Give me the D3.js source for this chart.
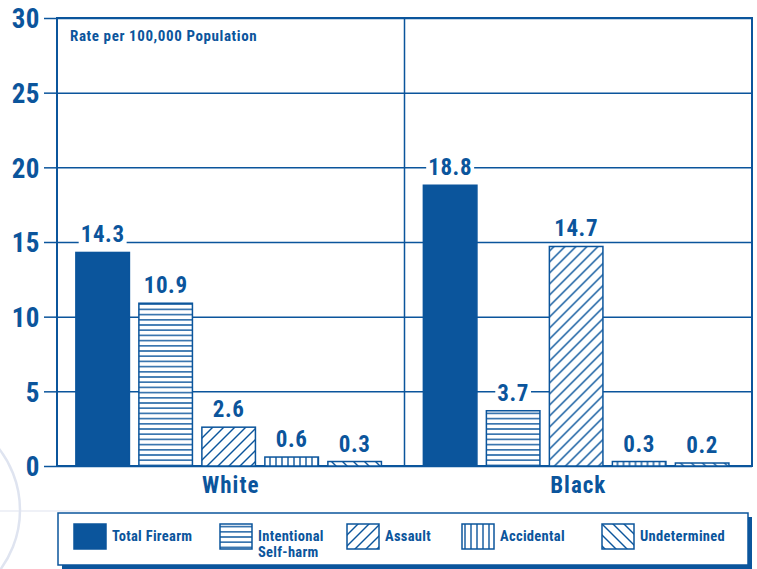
<!DOCTYPE html>
<html>
<head>
<meta charset="utf-8">
<script src="https://cdn.jsdelivr.net/npm/d3@7"></script>
<style>
  html, body { margin: 0; padding: 0; background: #fff; }
  svg text { font-family: "Liberation Sans Narrow", "Roboto Condensed", "Arial Narrow", "Liberation Sans", sans-serif; font-weight: bold; fill: #0b559c; }
</style>
</head>
<body>
<svg id="chart"></svg>
<script>
// data
const groups   = ["White", "Black"];
const series   = ["Total Firearm", "Intentional Self-harm", "Assault", "Accidental", "Undetermined"];
const white    = [14.3, 10.9, 2.6, 0.6, 0.3];
const black    = [18.8, 3.7, 14.7, 0.3, 0.2];
const yTicks   = [0, 5, 10, 15, 20, 25, 30];
const legendLabels = [["Total Firearm"], ["Intentional", "Self-harm"], ["Assault"], ["Accidental"], ["Undetermined"]];

const BLUE = "#0b559c";
const W = 757, H = 569;
const plot = { left: 57, right: 752, top: 18, bottom: 466 };

const svg = d3.select("#chart").attr("width", W).attr("height", H);
const defs = svg.append("defs");

// hatch patterns
function hatch(id, size, lines) {
  const p = defs.append("pattern").attr("id", id).attr("patternUnits", "userSpaceOnUse")
    .attr("width", size[0]).attr("height", size[1]);
  p.append("rect").attr("width", size[0]).attr("height", size[1]).attr("fill", "#fff");
  lines.forEach(l => p.append("line").attr("x1", l[0]).attr("y1", l[1]).attr("x2", l[2]).attr("y2", l[3])
    .attr("stroke", BLUE).attr("stroke-width", 1.4));
}
hatch("p-horiz", [10, 5.2], [[0, 2.6, 10, 2.6]]);
hatch("p-vert", [6, 10], [[3, 0, 3, 10]]);
hatch("p-fwd", [11, 11], [[-1, 12, 12, -1], [-12, 12, 1, -1], [10, 12, 23, -1]]);
hatch("p-back", [11, 11], [[-1, -1, 12, 12], [-12, -1, 1, 12], [10, -1, 23, 12]]);
const fills = [BLUE, "url(#p-horiz)", "url(#p-fwd)", "url(#p-vert)", "url(#p-back)"];

// decorative circle at bottom left
svg.append("circle").attr("cx", -80).attr("cy", 510).attr("r", 100)
  .attr("fill", "none").attr("stroke", "#dfe4f0").attr("stroke-width", 2.5);
svg.append("line").attr("x1", 0).attr("x2", 80).attr("y1", 511).attr("y2", 511)
  .attr("stroke", "#dfe4f0").attr("stroke-width", 1.2);

const y = d3.scaleLinear().domain([0, 30]).range([plot.bottom, plot.top]);
const x0 = d3.scaleBand().domain(groups).range([plot.left, plot.right]);
const x1 = d3.scaleBand().domain(series).range([0, x0.bandwidth()])
  .paddingInner(0.15).paddingOuter(0.333).align(0.45);

// frame + gridlines
svg.append("g").call(d3.axisLeft(y).tickValues(yTicks).tickSize(-(plot.right - plot.left)).tickFormat(""))
  .attr("transform", `translate(${plot.left},0)`)
  .call(g => g.select(".domain").remove())
  .call(g => g.selectAll("line").attr("stroke", BLUE).attr("stroke-width", 1.5));
svg.append("g").attr("transform", `translate(${plot.left},0)`)
  .call(d3.axisLeft(y).tickValues(yTicks).tickSize(13).tickPadding(4))
  .call(g => g.select(".domain").remove())
  .call(g => g.selectAll("line").attr("stroke", BLUE).attr("stroke-width", 1.5))
  .call(g => g.selectAll("text").attr("font-size", 27).attr("dy", "0.36em").attr("letter-spacing", 0.5));
svg.append("rect").attr("x", plot.left).attr("y", plot.top).attr("width", plot.right - plot.left)
  .attr("height", plot.bottom - plot.top).attr("fill", "none").attr("stroke", BLUE).attr("stroke-width", 2);
svg.append("line").attr("x1", x0("Black")).attr("x2", x0("Black")).attr("y1", plot.top).attr("y2", plot.bottom)
  .attr("stroke", BLUE).attr("stroke-width", 1.5);

svg.append("text").attr("x", 70).attr("y", 41).attr("font-size", 15).attr("letter-spacing", 0.6)
  .text("Rate per 100,000 Population");

// bars
const rows = groups.map((g, gi) => ({ group: g, values: (gi === 0 ? white : black).map((v, i) => ({ key: series[i], value: v, i })) }));
const gGroups = svg.selectAll("g.group").data(rows).join("g").attr("class", "group")
  .attr("transform", d => `translate(${x0(d.group)},0)`);

gGroups.selectAll("rect.bar").data(d => d.values).join("rect").attr("class", "bar")
  .attr("x", d => x1(d.key)).attr("width", x1.bandwidth())
  .attr("y", d => y(d.value)).attr("height", d => y(0) - y(d.value))
  .attr("fill", d => fills[d.i]).attr("stroke", BLUE).attr("stroke-width", 1.5);

// value labels, with a white box behind so grid lines don't cross them
const vals = gGroups.selectAll("g.val").data(d => d.values).join("g").attr("class", "val");
const bg = vals.append("rect").attr("fill", "#fff");
vals.append("text")
  .attr("x", d => x1(d.key) + x1.bandwidth() / 2).attr("y", d => y(d.value) - 10)
  .attr("text-anchor", "middle").attr("font-size", 23).attr("letter-spacing", 0.6)
  .text(d => d.value.toFixed(1))
  .each(function () {
    const b = this.getBBox();
    d3.select(this.previousSibling).attr("x", b.x - 2).attr("y", b.y + 3)
      .attr("width", b.width + 4).attr("height", b.height - 5);
  });

gGroups.append("text").attr("x", x0.bandwidth() / 2).attr("y", 493).attr("text-anchor", "middle")
  .attr("font-size", 23).attr("letter-spacing", 1).text(d => d.group);

// legend
svg.append("rect").attr("x", 62).attr("y", 517).attr("width", 690).attr("height", 52).attr("fill", BLUE);
svg.append("rect").attr("x", 58).attr("y", 513).attr("width", 690).attr("height", 52)
  .attr("fill", "#fff").attr("stroke", BLUE).attr("stroke-width", 1.5);

const legendX = [74, 220, 347, 462, 602];
const leg = svg.selectAll("g.leg").data(series).join("g").attr("class", "leg")
  .attr("transform", (d, i) => `translate(${legendX[i]},524)`);
leg.append("rect").attr("width", 32).attr("height", 25)
  .attr("fill", (d, i) => fills[i]).attr("stroke", BLUE).attr("stroke-width", 1.5);
leg.append("text").attr("x", 38).attr("y", 17).attr("font-size", 14.5).attr("letter-spacing", 0.3)
  .selectAll("tspan").data((d, i) => legendLabels[i]).join("tspan")
  .attr("x", 38).attr("dy", (d, j) => j === 0 ? 0 : 15.5).text(d => d);
</script>
</body>
</html>
